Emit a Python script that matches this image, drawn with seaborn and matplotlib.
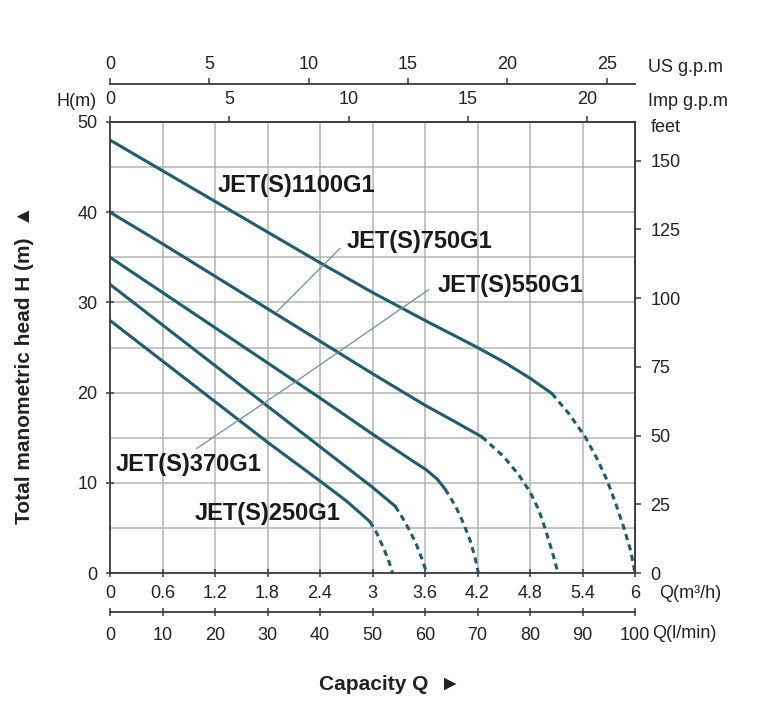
import numpy as np
import pandas as pd
import matplotlib
matplotlib.use("Agg")
import matplotlib.pyplot as plt
import seaborn as sns

# ---------------- data (Q in m3/h, H in m) ----------------
pumps = ["JET(S)1100G1", "JET(S)750G1", "JET(S)550G1", "JET(S)370G1", "JET(S)250G1"]

q_1100 = [0, 0.6, 1.2, 1.8, 2.4, 3.0, 3.6, 4.2, 4.5, 4.8, 5.05]
h_1100 = [48.0, 44.6, 41.2, 37.8, 34.4, 31.1, 28.0, 25.0, 23.4, 21.6, 19.9]
q_1100_d = [5.05, 5.25, 5.43, 5.57, 5.68, 5.78, 5.87, 5.95, 6.0]
h_1100_d = [19.9, 17.6, 15.1, 12.6, 10.3, 7.7, 5.1, 2.5, 0.0]

q_750 = [0, 0.6, 1.2, 1.8, 2.4, 3.0, 3.6, 3.9, 4.25]
h_750 = [40.0, 36.5, 32.9, 29.3, 25.7, 22.1, 18.6, 17.0, 15.1]
q_750_d = [4.25, 4.5, 4.67, 4.8, 4.9, 4.97, 5.05, 5.12]
h_750_d = [15.1, 12.9, 10.9, 9.0, 7.0, 5.0, 2.5, 0.0]

q_550 = [0, 0.6, 1.2, 1.8, 2.4, 3.0, 3.4, 3.62, 3.74, 3.83]
h_550 = [35.0, 31.1, 27.2, 23.3, 19.4, 15.4, 12.8, 11.4, 10.4, 9.3]
q_550_d = [3.83, 3.95, 4.04, 4.12, 4.17, 4.21]
h_550_d = [9.3, 7.4, 5.5, 3.5, 1.8, 0.0]

q_370 = [0, 0.6, 1.2, 1.8, 2.4, 3.0, 3.26]
h_370 = [32.0, 27.5, 23.0, 18.5, 14.0, 9.5, 7.4]
q_370_d = [3.26, 3.35, 3.43, 3.5, 3.56, 3.62]
h_370_d = [7.4, 6.0, 4.6, 3.2, 1.7, 0.0]

q_250 = [0, 0.6, 1.2, 1.8, 2.4, 2.7, 2.97]
h_250 = [28.0, 23.5, 19.0, 14.5, 10.2, 8.0, 5.7]
q_250_d = [2.97, 3.05, 3.12, 3.18, 3.23]
h_250_d = [5.7, 4.4, 2.9, 1.5, 0.0]

x_ticks_m3h = [0, 0.6, 1.2, 1.8, 2.4, 3, 3.6, 4.2, 4.8, 5.4, 6]
x_ticks_lmin = [0, 10, 20, 30, 40, 50, 60, 70, 80, 90, 100]
x_ticks_imp = [0, 5, 10, 15, 20]
x_ticks_us = [0, 5, 10, 15, 20, 25]
y_ticks_m = [0, 10, 20, 30, 40, 50]
y_ticks_ft = [0, 25, 50, 75, 100, 125, 150]

# label positions (Q, H) and leader lines
label_pos = {
    "JET(S)1100G1": (1.23, 43.0),
    "JET(S)750G1": (2.71, 36.7),
    "JET(S)550G1": (3.74, 31.9),
    "JET(S)370G1": (0.06, 12.0),
    "JET(S)250G1": (0.97, 6.6),
}
leaders = [((2.63, 36.0), (1.90, 28.9)),
           ((3.64, 31.4), (2.12, 21.2)),
           ((0.99, 13.8), (2.12, 21.2))]

# ---------------- build table ----------------
rows = []
series = {
    "JET(S)1100G1": (q_1100, h_1100, q_1100_d, h_1100_d),
    "JET(S)750G1": (q_750, h_750, q_750_d, h_750_d),
    "JET(S)550G1": (q_550, h_550, q_550_d, h_550_d),
    "JET(S)370G1": (q_370, h_370, q_370_d, h_370_d),
    "JET(S)250G1": (q_250, h_250, q_250_d, h_250_d),
}
for p, (qs, hs, qd, hd) in series.items():
    for q, h in zip(qs, hs):
        rows.append(dict(pump=p, part="solid", seg=p + "s", Q=q, H=h))
    for q, h in zip(qd, hd):
        rows.append(dict(pump=p, part="dashed", seg=p + "d", Q=q, H=h))
df = pd.DataFrame(rows)

# ---------------- style ----------------
sns.set_theme(style="white")
plt.rcParams["font.family"] = ["Liberation Sans", "DejaVu Sans"]
plt.rcParams["axes.unicode_minus"] = False

TXT = "#222222"
SPINE = "#3c3c3c"
CURVE = "#1e5d6f"
GRID = "#b4b4b4"
TICKSIZE = 13

W, H = 762, 720
fig = plt.figure(figsize=(W / 100, H / 100), dpi=100)
fig.patch.set_facecolor("white")

left, right, top, bottom = 110, 635, 122, 573
ax = fig.add_axes([left / W, 1 - bottom / H, (right - left) / W, (bottom - top) / H])
ax.set_facecolor("white")

sns.lineplot(data=df, x="Q", y="H", units="seg", estimator=None, style="part",
             dashes={"solid": "", "dashed": (2.0, 1.5)}, color=CURVE,
             linewidth=2.2, legend=False, ax=ax)
for ln in ax.get_lines():
    ln.set_solid_joinstyle("round")
    ln.set_dash_joinstyle("round")

ax.set_xlim(0, 6)
ax.set_ylim(0, 50)
ax.set_xticks(x_ticks_m3h)
ax.set_xticklabels([f"{v:g}" for v in x_ticks_m3h])
ax.set_yticks(y_ticks_m)
ax.set_yticks(np.arange(0, 51, 5), minor=True)
ax.grid(True, which="major", axis="x", color=GRID, lw=1.1)
ax.grid(True, which="both", axis="y", color=GRID, lw=1.1)
ax.set_axisbelow(True)
ax.set_xlabel("")
ax.set_ylabel("")
for s in ax.spines.values():
    s.set_color(SPINE)
    s.set_linewidth(1.3)
    s.set_visible(True)
ax.tick_params(axis="both", which="major", direction="inout", length=6, width=1.1,
               color=SPINE, labelsize=TICKSIZE, labelcolor=TXT, pad=6,
               bottom=True, left=True, top=False, right=False)
ax.tick_params(axis="y", which="minor", length=0)

# secondary axes
lmin = ax.secondary_xaxis(-39 / (bottom - top),
                          functions=(lambda q: q * 1000 / 60, lambda l: l * 60 / 1000))
lmin.set_xticks(x_ticks_lmin)
lmin.tick_params(direction="inout", length=6, width=1.1, color=SPINE,
                 labelsize=TICKSIZE, labelcolor=TXT, pad=8)

imp = ax.secondary_xaxis("top", functions=(lambda q: q * 1000 / 60 / 4.54609,
                                           lambda g: g * 4.54609 * 60 / 1000))
imp.set_xticks(x_ticks_imp)
imp.tick_params(direction="out", length=4, width=1.1, color=SPINE,
                labelsize=TICKSIZE, labelcolor=TXT, pad=6)

us = ax.secondary_xaxis(1 + 38 / (bottom - top),
                        functions=(lambda q: q * 1000 / 60 / 3.78541,
                                   lambda g: g * 3.78541 * 60 / 1000))
us.set_xticks(x_ticks_us)
us.tick_params(direction="out", length=4, width=1.1, color=SPINE,
               labelsize=TICKSIZE, labelcolor=TXT, pad=4)

ft = ax.secondary_yaxis("right", functions=(lambda h: h / 0.3048, lambda f: f * 0.3048))
ft.set_yticks(y_ticks_ft)
ft.tick_params(direction="out", length=4, width=1.1, color=SPINE,
               labelsize=TICKSIZE, labelcolor=TXT, pad=7)

for sa in (lmin, imp, us, ft):
    for s in sa.spines.values():
        s.set_color(SPINE)
        s.set_linewidth(1.3)

# curve labels and leader lines
for name, (qx, hy) in label_pos.items():
    ax.text(qx, hy, name, fontsize=17, fontweight="bold", color="#1a1a1a",
            ha="left", va="center")
for (a, b) in leaders:
    ax.annotate("", xy=b, xytext=a,
                arrowprops=dict(arrowstyle="-", color="#6f9097", lw=0.9,
                                shrinkA=0, shrinkB=0))

# unit texts
def ftxt(px, py, s, **kw):
    fig.text(px / W, 1 - py / H, s, color=TXT, **kw)

ftxt(648, 67, "US g.p.m", fontsize=TICKSIZE, ha="left", va="center")
ftxt(648, 101, "Imp g.p.m", fontsize=TICKSIZE, ha="left", va="center")
ftxt(651, 128, "feet", fontsize=TICKSIZE, ha="left", va="center")
ftxt(97, 101, "H(m)", fontsize=TICKSIZE, ha="right", va="center")
ftxt(659, 594, "Q(m³/h)", fontsize=TICKSIZE, ha="left", va="center")
ftxt(652, 634, "Q(l/min)", fontsize=TICKSIZE, ha="left", va="center")
ftxt(390, 685, "Capacity Q  ►", fontsize=15, fontweight="bold", ha="center",
     va="center", family=["Liberation Sans", "DejaVu Sans"])
ftxt(25, 365, "Total manometric head H (m)  ▲", fontsize=15, fontweight="bold",
     ha="center", va="center", rotation=90, family=["Liberation Sans", "DejaVu Sans"])

fig.savefig("out.png", dpi=100, facecolor="white")
